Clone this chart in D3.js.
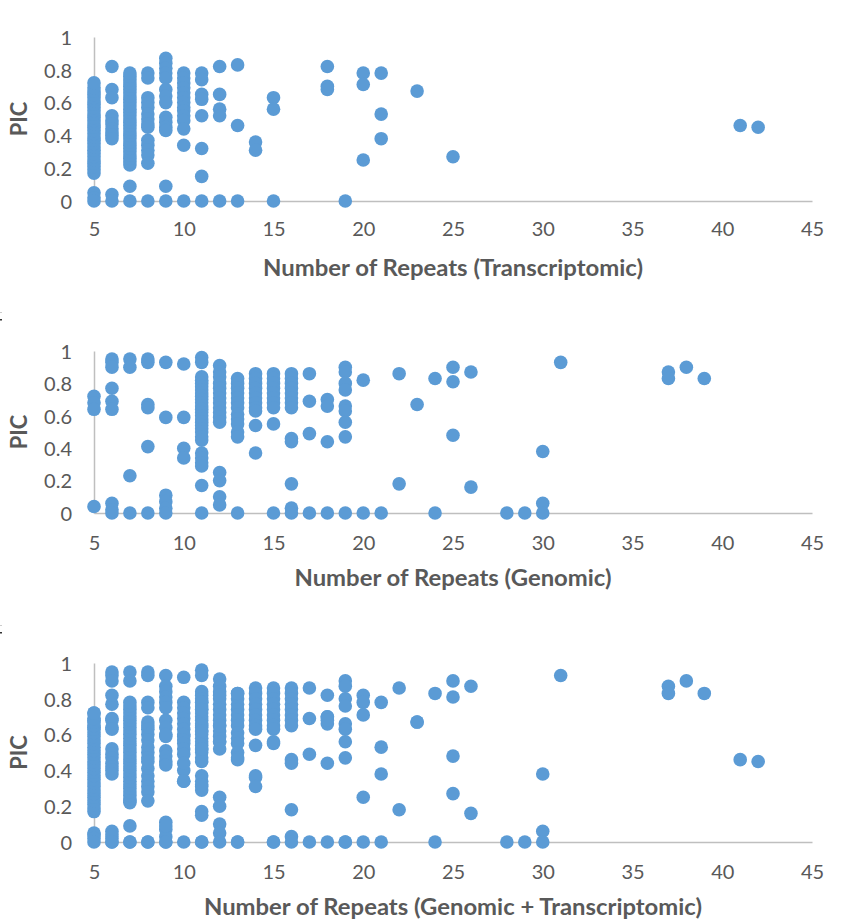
<!DOCTYPE html>
<html>
<head>
<meta charset="utf-8">
<script src="https://cdn.jsdelivr.net/npm/d3@7"></script>
<style>
  body { margin: 0; background: #ffffff; }
  text { font-family: Lato, "Open Sans", sans-serif; fill: #595959; }
</style>
</head>
<body>
<svg id="chart" width="847" height="919"></svg>
<script>
// Axis ticks
const xTicks = [5, 10, 15, 20, 25, 30, 35, 40, 45];
const yTicks = [0, 0.2, 0.4, 0.6, 0.8, 1];

// PIC values grouped by number of repeats — transcriptomic markers
const transcriptomicCols = [
  [5, [0.17,0.19,0.21,0.23,0.25,0.27,0.29,0.31,0.33,0.35,0.37,0.39,0.41,0.43,0.45,0.47,0.49,0.51,0.53,0.55,0.57,0.59,0.61,0.63,0.65,0.67,0.69,0.72,0.05,0.02,0]],
  [6, [0.82,0.68,0.63,0.52,0.49,0.47,0.44,0.42,0.40,0.38,0.04,0]],
  [7, [0.22,0.24,0.26,0.28,0.30,0.32,0.34,0.36,0.38,0.40,0.42,0.44,0.46,0.48,0.50,0.52,0.54,0.56,0.58,0.60,0.62,0.64,0.66,0.68,0.70,0.72,0.74,0.76,0.78,0.09,0]],
  [8, [0.78,0.75,0.63,0.60,0.57,0.53,0.50,0.47,0.45,0.37,0.34,0.31,0.28,0.23,0]],
  [9, [0.87,0.84,0.81,0.78,0.75,0.68,0.64,0.60,0.51,0.48,0.45,0.43,0.09,0]],
  [10, [0.78,0.75,0.72,0.69,0.66,0.63,0.60,0.57,0.55,0.52,0.49,0.44,0.34,0]],
  [11, [0.78,0.74,0.65,0.62,0.52,0.32,0.15,0]],
  [12, [0.82,0.65,0.56,0.52,0]],
  [13, [0.83,0.46,0]],
  [14, [0.36,0.31]],
  [15, [0.63,0.56,0]],
  [18, [0.82,0.70,0.68]],
  [19, [0]],
  [20, [0.78,0.71,0.25]],
  [21, [0.78,0.53,0.38]],
  [23, [0.67]],
  [25, [0.27]],
  [41, [0.46]],
  [42, [0.45]]
];

// PIC values grouped by number of repeats — genomic markers
const genomicCols = [
  [5, [0.72,0.68,0.64,0.04]],
  [6, [0.95,0.93,0.90,0.77,0.69,0.64,0.06,0.02,0]],
  [7, [0.95,0.90,0.23,0]],
  [8, [0.95,0.93,0.67,0.65,0.41,0]],
  [9, [0.93,0.59,0.11,0.07,0.03,0]],
  [10, [0.92,0.59,0.40,0.34]],
  [11, [0.96,0.93,0.84,0.82,0.80,0.78,0.76,0.74,0.72,0.70,0.68,0.66,0.64,0.62,0.60,0.58,0.56,0.54,0.52,0.50,0.47,0.45,0.37,0.34,0.31,0.29,0.17,0]],
  [12, [0.91,0.87,0.84,0.80,0.77,0.74,0.71,0.68,0.65,0.62,0.59,0.56,0.25,0.20,0.10,0.05]],
  [13, [0.83,0.80,0.77,0.74,0.71,0.68,0.65,0.61,0.58,0.55,0.50,0.47,0]],
  [14, [0.86,0.83,0.80,0.77,0.74,0.71,0.68,0.65,0.63,0.54,0.37]],
  [15, [0.86,0.83,0.80,0.77,0.74,0.71,0.68,0.65,0.55,0]],
  [16, [0.86,0.83,0.80,0.77,0.74,0.71,0.68,0.65,0.46,0.44,0.18,0.03,0]],
  [17, [0.86,0.69,0.49,0]],
  [18, [0.70,0.66,0.44,0]],
  [19, [0.90,0.87,0.80,0.76,0.66,0.63,0.56,0.47,0]],
  [20, [0.82,0]],
  [21, [0]],
  [22, [0.86,0.18]],
  [23, [0.67]],
  [24, [0.83,0]],
  [25, [0.90,0.81,0.48]],
  [26, [0.87,0.16]],
  [28, [0]],
  [29, [0]],
  [30, [0.38,0.06,0]],
  [31, [0.93]],
  [37, [0.87,0.83]],
  [38, [0.90]],
  [39, [0.83]]
];

const titles = [
  "Number of Repeats (Transcriptomic)",
  "Number of Repeats (Genomic)",
  "Number of Repeats (Genomic + Transcriptomic)"
];

// Flatten [repeats, [pic...]] groups into point records
const flatten = cols => cols.flatMap(([n, vals]) => vals.map(v => ({ n, v })));
const transcriptomic = flatten(transcriptomicCols);
const genomic = flatten(genomicCols);
const combined = genomic.concat(transcriptomic);
const datasets = [transcriptomic, genomic, combined];

// Panel geometry (pixel positions of the y=1 and y=0 lines, label offsets)
const panels = [
  { top: 37,  bottom: 201, tickPad: 28, titleY: 268, titleLen: 380 },
  { top: 351, bottom: 513, tickPad: 30, titleY: 578, titleLen: 317 },
  { top: 663, bottom: 842, tickPad: 30, titleY: 907, titleLen: 498 }
];

const svg = d3.select("#chart");
const x = d3.scaleLinear().domain([5, 45]).range([94, 812]);
const blue = "#5B9BD5";
const axisGrey = "#BFBFBF";

panels.forEach((p, i) => {
  const y = d3.scaleLinear().domain([0, 1]).range([p.bottom, p.top]);
  const g = svg.append("g");

  // y axis
  const ya = g.append("g")
    .attr("transform", `translate(${x.range()[0]},0)`)
    .call(d3.axisLeft(y).tickValues(yTicks).tickSize(0).tickPadding(22).tickFormat(d3.format("~g")));
  ya.select(".domain").attr("stroke", axisGrey).attr("stroke-width", 1.5);
  ya.selectAll("text").style("font-size", "20px").style("font-family", "Lato, sans-serif").attr("fill", "#595959").attr("dy", "0.36em");

  // x axis
  const xa = g.append("g")
    .attr("transform", `translate(0,${p.bottom})`)
    .call(d3.axisBottom(x).tickValues(xTicks).tickSize(0).tickPadding(p.tickPad).tickFormat(d3.format("d")));
  xa.select(".domain").attr("stroke", axisGrey).attr("stroke-width", 1.5);
  xa.selectAll("text").style("font-size", "20px").style("font-family", "Lato, sans-serif").attr("fill", "#595959").attr("dy", "0.36em");

  // points
  g.append("g").selectAll("circle")
    .data(datasets[i])
    .join("circle")
    .attr("cx", d => x(d.n))
    .attr("cy", d => y(d.v))
    .attr("r", 6.8)
    .attr("fill", blue);

  // y axis title
  g.append("text")
    .attr("transform", `translate(19,${(p.top + p.bottom) / 2}) rotate(-90)`)
    .attr("text-anchor", "middle")
    .attr("dy", "0.36em")
    .style("font-size", "22px")
    .style("font-weight", "bold")
    .text("PIC");

  // x axis title
  g.append("text")
    .attr("x", (x.range()[0] + x.range()[1]) / 2)
    .attr("y", p.titleY)
    .attr("text-anchor", "middle")
    .attr("dy", "0.36em")
    .attr("textLength", p.titleLen)
    .attr("lengthAdjust", "spacingAndGlyphs")
    .style("font-size", "22px")
    .style("font-weight", "bold")
    .text(titles[i]);
});

// small edge marks at the left border between panels
[320, 633].forEach(yy => {
  svg.append("rect").attr("x", 0).attr("y", yy - 1).attr("width", 2).attr("height", 1.5).attr("fill", "#333");
  svg.append("rect").attr("x", 0).attr("y", yy - 8).attr("width", 2).attr("height", 1).attr("fill", "#ccc");
});
</script>
</body>
</html>
